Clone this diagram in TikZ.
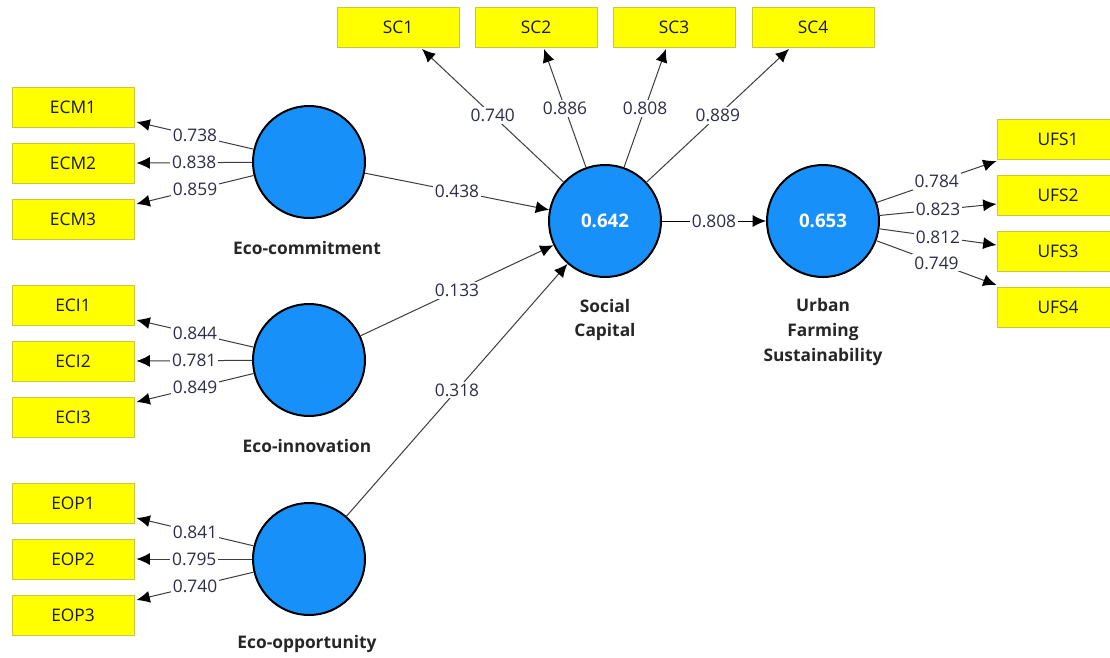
\documentclass[tikz,border=0pt]{standalone}
\usepackage{fontspec}
\setmainfont{Open Sans}
\usetikzlibrary{arrows.meta, positioning, calc}
\definecolor{lvblue}{RGB}{24,144,250}
\definecolor{mvyellow}{RGB}{255,255,0}
\definecolor{mvedge}{RGB}{200,200,60}
\definecolor{pathgray}{RGB}{60,60,60}
\definecolor{numtext}{RGB}{45,45,70}
\tikzset{
  mvbox/.style={draw=mvedge, fill=mvyellow, line width=0.75pt, minimum width=91.5pt,
    minimum height=30pt, inner sep=0pt, font=\fontsize{13}{15}\selectfont, text=black!90},
  lvcirc/.style={circle, draw=black, fill=lvblue, line width=1.5pt, minimum size=84pt,
    inner sep=0pt, text=white, font=\fontsize{14}{16}\selectfont\bfseries},
  lvname/.style={align=center, font=\fontsize{13}{18.5}\selectfont\bfseries, text=black!85},
  wt/.style={fill=white, inner sep=1.5pt, font=\fontsize{13}{15}\selectfont, text=numtext},
  pth/.style={-{Latex[length=10pt,width=9pt,black]}, draw=pathgray, line width=0.75pt},
}

\begin{document}
\begin{tikzpicture}[x=0.75pt, y=-0.75pt]
\useasboundingbox (0,0) rectangle (1110,657);

\node[lvcirc] (ecm) at (309,162) {};
\node[lvcirc] (eci) at (309,360) {};
\node[lvcirc] (eop) at (309,559) {};
\node[lvcirc] (sc) at (605,221) {0.642};
\node[lvcirc] (ufs) at (823,221) {0.653};

\node[lvname] (ecmname) at (307,248) {Eco-commitment};
\node[lvname] (eciname) at (307,446) {Eco-innovation};
\node[lvname] (eopname) at (307,644) {Eco-opportunity};
\node[lvname] (scname) at (605,320) {Social\\Capital};
\node[lvname] (ufsname) at (823,332) {Urban\\Farming\\Sustainability};

\foreach \i/\y in {1/107,2/163,3/219}
  \node[mvbox] (ecm\i) at (73,\y) {ECM\i};
\foreach \i/\y in {1/305,2/361,3/417}
  \node[mvbox] (eci\i) at (73,\y) {ECI\i};
\foreach \i/\y in {1/503,2/559,3/615}
  \node[mvbox] (eop\i) at (73,\y) {EOP\i};
\foreach \i/\x in {1/398,2/536,3/674,4/813}
  \node[mvbox] (sc\i) at (\x,27.5) {SC\i};
\foreach \i/\y in {1/139,2/195,3/251,4/307}
  \node[mvbox] (ufs\i) at (1058,\y) {UFS\i};

\foreach \i/\dy/\w in {1/15/0.738,2/0/0.838,3/-15/0.859}
  \draw[pth] (ecm) -- ($(ecm\i.east)+(2,\dy)$) node[wt,pos=0.5] {\w};
\foreach \i/\dy/\w in {1/15/0.844,2/0/0.781,3/-15/0.849}
  \draw[pth] (eci) -- ($(eci\i.east)+(2,\dy)$) node[wt,pos=0.5] {\w};
\foreach \i/\dy/\w in {1/15/0.841,2/0/0.795,3/-15/0.740}
  \draw[pth] (eop) -- ($(eop\i.east)+(2,\dy)$) node[wt,pos=0.5] {\w};
\foreach \i/\dx/\w in {1/24/0.740,2/8/0.886,3/-8/0.808,4/-24/0.889}
  \draw[pth] (sc) -- ($(sc\i.south)+(\dx,1)$) node[wt,pos=0.5] {\w};
\foreach \i/\dy/\w in {1/22/0.784,2/9/0.823,3/-6/0.812,4/-22/0.749}
  \draw[pth] (ufs) -- ($(ufs\i.west)+(0,\dy)$) node[wt,pos=0.5] {\w};

\draw[pth] (ecm) -- (sc) node[wt,pos=0.5] {0.438};
\draw[pth] (eci) -- (sc) node[wt,pos=0.5] {0.133};
\draw[pth] (eop) -- (sc) node[wt,pos=0.5] {0.318};
\draw[pth, draw=black] (sc) -- (ufs) node[wt,pos=0.5] {0.808};

\end{tikzpicture}
\end{document}
